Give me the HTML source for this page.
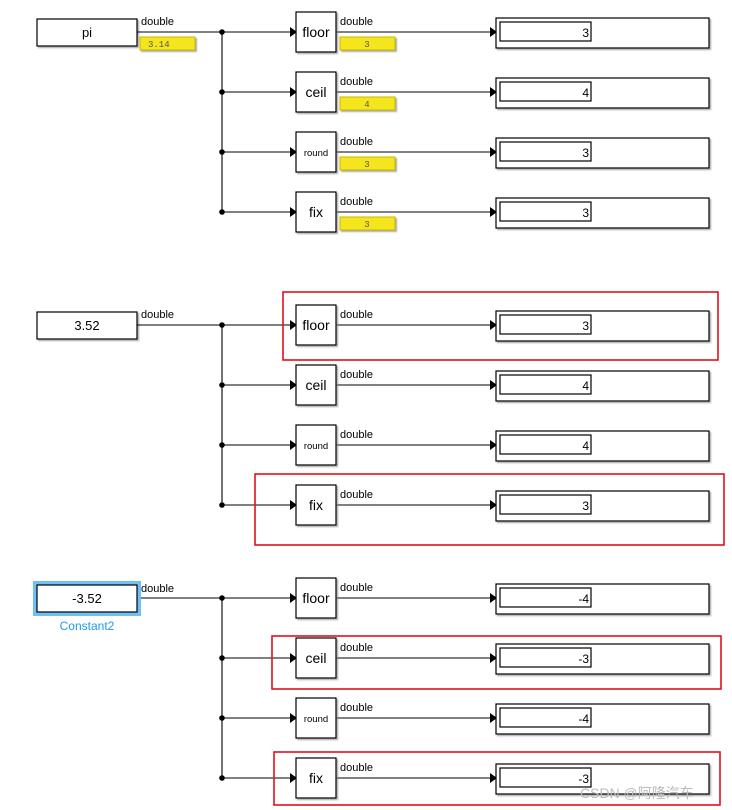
<!DOCTYPE html>
<html><head><meta charset="utf-8"><style>
body{margin:0;background:#fff}
svg{display:block;font-family:"Liberation Sans",sans-serif}
.b{fill:#fff;stroke:#000;stroke-width:1.2}
.l{stroke:#000;stroke-width:1.1;fill:none}
.t{font-size:11px}
.m{font-family:"Liberation Mono",monospace;font-size:9px;fill:#555}
</style></head><body>
<svg width="732" height="810" viewBox="0 0 732 810">
<defs>
<filter id="sh" x="-10%" y="-10%" width="130%" height="140%"><feDropShadow dx="1.5" dy="1.5" stdDeviation="0.8" flood-color="#888" flood-opacity="0.7"/></filter>
<g id="row">
<path class="l" d="M222 0H290"/><path d="M290 -5L297 0L290 5Z"/>
<circle cx="222" cy="0" r="2.8"/>
<path class="l" d="M336 0H490"/><path d="M490 -5L497 0L490 5Z"/>
<rect class="b" x="496" y="-14" width="213" height="30" filter="url(#sh)"/>
<rect class="b" x="500" y="-10" width="91" height="19"/>
<text class="t" x="340" y="-7">double</text>
</g>
<g id="yl"><rect x="340" y="5" width="55" height="13" fill="#f5e51d" stroke="#c9b700" stroke-width="1" filter="url(#sh)"/></g>
</defs>

<!-- Group 1 -->
<rect class="b" x="37" y="19" width="100" height="27" filter="url(#sh)"/>
<text x="87" y="37" font-size="13" text-anchor="middle">pi</text>
<text class="t" x="141" y="25">double</text>
<rect x="140" y="37" width="55" height="13" fill="#f5e51d" stroke="#c9b700" filter="url(#sh)"/>
<text class="m" x="148" y="47">3.14</text>
<path class="l" d="M137 32H222V212"/>
<g transform="translate(0,32)"><use href="#row"/><use href="#yl"/><text class="m" x="367" y="15" text-anchor="middle">3</text><text x="589" y="5" font-size="12" text-anchor="end">3</text></g>
<g transform="translate(0,92)"><use href="#row"/><use href="#yl"/><text class="m" x="367" y="15" text-anchor="middle">4</text><text x="589" y="5" font-size="12" text-anchor="end">4</text></g>
<g transform="translate(0,152)"><use href="#row"/><use href="#yl"/><text class="m" x="367" y="15" text-anchor="middle">3</text><text x="589" y="5" font-size="12" text-anchor="end">3</text></g>
<g transform="translate(0,212)"><use href="#row"/><use href="#yl"/><text class="m" x="367" y="15" text-anchor="middle">3</text><text x="589" y="5" font-size="12" text-anchor="end">3</text></g>
<rect class="b" x="296" y="12" width="40" height="40" filter="url(#sh)"/><text x="316" y="37" font-size="14" text-anchor="middle">floor</text>
<rect class="b" x="296" y="72" width="40" height="40" filter="url(#sh)"/><text x="316" y="97" font-size="14" text-anchor="middle">ceil</text>
<rect class="b" x="296" y="132" width="40" height="40" filter="url(#sh)"/><text x="316" y="156" font-size="9.5" text-anchor="middle">round</text>
<rect class="b" x="296" y="192" width="40" height="40" filter="url(#sh)"/><text x="316" y="217" font-size="14" text-anchor="middle">fix</text>

<!-- Group 2 -->
<rect class="b" x="37" y="312" width="100" height="27" filter="url(#sh)"/>
<text x="87" y="330" font-size="13" text-anchor="middle">3.52</text>
<text class="t" x="141" y="318">double</text>
<path class="l" d="M137 325H222V505"/>
<g transform="translate(0,325)"><use href="#row"/><text x="589" y="5" font-size="12" text-anchor="end">3</text></g>
<g transform="translate(0,385)"><use href="#row"/><text x="589" y="5" font-size="12" text-anchor="end">4</text></g>
<g transform="translate(0,445)"><use href="#row"/><text x="589" y="5" font-size="12" text-anchor="end">4</text></g>
<g transform="translate(0,505)"><use href="#row"/><text x="589" y="5" font-size="12" text-anchor="end">3</text></g>
<rect class="b" x="296" y="305" width="40" height="40" filter="url(#sh)"/><text x="316" y="330" font-size="14" text-anchor="middle">floor</text>
<rect class="b" x="296" y="365" width="40" height="40" filter="url(#sh)"/><text x="316" y="390" font-size="14" text-anchor="middle">ceil</text>
<rect class="b" x="296" y="425" width="40" height="40" filter="url(#sh)"/><text x="316" y="449" font-size="9.5" text-anchor="middle">round</text>
<rect class="b" x="296" y="485" width="40" height="40" filter="url(#sh)"/><text x="316" y="510" font-size="14" text-anchor="middle">fix</text>

<!-- Group 3 -->
<rect x="33" y="581" width="108" height="35" fill="#6ec0f5"/>
<rect class="b" x="37" y="585" width="100" height="27"/>
<text x="87" y="603" font-size="13" text-anchor="middle">-3.52</text>
<text x="87" y="630" font-size="12" fill="#1a9bf0" text-anchor="middle">Constant2</text>
<text class="t" x="141" y="592">double</text>
<path class="l" d="M141 598H222V778"/>
<g transform="translate(0,598)"><use href="#row"/><text x="589" y="5" font-size="12" text-anchor="end">-4</text></g>
<g transform="translate(0,658)"><use href="#row"/><text x="589" y="5" font-size="12" text-anchor="end">-3</text></g>
<g transform="translate(0,718)"><use href="#row"/><text x="589" y="5" font-size="12" text-anchor="end">-4</text></g>
<g transform="translate(0,778)"><use href="#row"/><text x="589" y="5" font-size="12" text-anchor="end">-3</text></g>
<rect class="b" x="296" y="578" width="40" height="40" filter="url(#sh)"/><text x="316" y="603" font-size="14" text-anchor="middle">floor</text>
<rect class="b" x="296" y="638" width="40" height="40" filter="url(#sh)"/><text x="316" y="663" font-size="14" text-anchor="middle">ceil</text>
<rect class="b" x="296" y="698" width="40" height="40" filter="url(#sh)"/><text x="316" y="722" font-size="9.5" text-anchor="middle">round</text>
<rect class="b" x="296" y="758" width="40" height="40" filter="url(#sh)"/><text x="316" y="783" font-size="14" text-anchor="middle">fix</text>

<!-- Red highlight boxes -->
<g fill="none" stroke="#e3101e" stroke-width="1.6">
<rect x="283" y="292" width="435" height="68"/>
<rect x="255" y="474" width="469" height="71"/>
<rect x="272" y="636" width="449" height="53"/>
<rect x="274" y="752" width="446" height="53"/>
</g>
<text x="580" y="798" font-size="14" fill="#bbb" font-family="Liberation Sans, Noto Sans CJK SC, sans-serif">CSDN @阿隆汽车</text>
</svg>
</body></html>
